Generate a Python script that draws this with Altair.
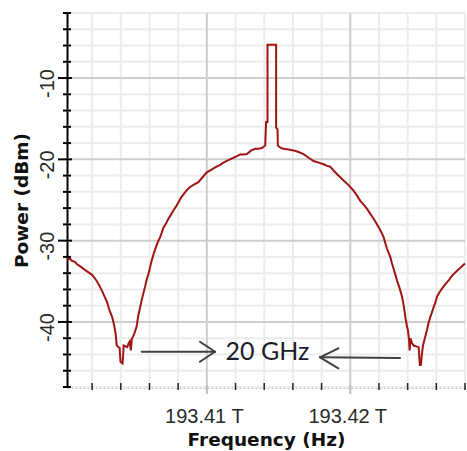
import altair as alt
import pandas as pd

# Frequencies are GHz offsets from 193.40 THz
BASE_THZ = 193.40
freq_ghz = [
    0.25, 0.45, 0.6, 0.8, 0.95, 1.2, 1.5, 1.75, 2.0, 2.3, 2.5, 2.7, 2.9, 3.05, 3.2, 3.4,
    3.55, 3.65, 3.72, 3.85, 3.92, 3.98, 4.12, 4.16, 4.2, 4.35, 4.45, 4.55, 4.62, 4.7,
    4.77, 4.85, 4.95, 5.1, 5.22, 5.35, 5.46, 5.6, 5.69, 5.8, 5.93, 6.05, 6.16, 6.3,
    6.45, 6.6, 6.74, 6.86, 6.97, 7.15, 7.32, 7.5, 7.67, 7.85, 8.02, 8.2, 8.37, 8.6,
    8.83, 9.1, 9.41, 9.7, 10.0, 10.3, 10.58, 10.9, 11.16, 11.5, 11.86, 12.1, 12.32,
    12.55, 12.79, 13.1, 13.37, 13.6, 13.84, 14.07, 14.13, 14.23, 14.23, 14.83, 14.83,
    14.93, 14.95, 15.15, 15.35, 15.7, 16.05, 16.4, 16.74, 17.1, 17.44, 17.8, 18.14,
    18.4, 18.6, 18.85, 19.07, 19.3, 19.53, 19.9, 20.23, 20.45, 20.7, 20.95, 21.17,
    21.4, 21.63, 21.8, 21.98, 22.15, 22.33, 22.56, 22.79, 22.91, 23.1, 23.26, 23.45,
    23.61, 23.75, 23.84, 23.95, 24.02, 24.1, 24.14, 24.2, 24.3, 24.42, 24.6, 24.77,
    24.85, 24.92, 25.0, 25.07, 25.2, 25.35, 25.45, 25.58, 25.7, 25.81, 25.95, 26.05,
    26.2, 26.4, 26.6, 26.86, 27.1, 27.45, 27.7, 28.0,
]
power_dbm = [
    -32.4, -32.2, -32.5, -32.6, -32.9, -33.2, -33.6, -33.9, -34.2, -34.9, -35.5, -36.2,
    -37.0, -37.6, -38.5, -39.4, -40.5, -41.6, -42.9, -43.1, -43.2, -44.9, -45.1, -44.2,
    -42.9, -43.0, -43.1, -42.6, -42.4, -43.5, -42.1, -41.8, -41.4, -40.6, -39.2, -38.2,
    -37.3, -36.3, -35.7, -34.8, -34.1, -33.2, -32.4, -31.6, -30.8, -30.1, -29.6, -29.0,
    -28.4, -27.9, -27.3, -26.8, -26.3, -25.8, -25.3, -24.7, -24.3, -23.8, -23.4, -23.1,
    -22.8, -22.2, -21.6, -21.3, -21.0, -20.7, -20.4, -20.1, -19.8, -19.6, -19.4, -19.4,
    -19.35, -18.9, -18.7, -18.7, -18.6, -18.3, -15.4, -15.4, -5.9, -5.9, -16.1, -16.3,
    -18.3, -18.6, -18.7, -18.8, -18.9, -19.1, -19.35, -19.8, -20.2, -20.4, -20.6, -20.8,
    -20.9, -21.4, -21.8, -22.2, -22.6, -23.2, -23.85, -24.4, -25.1, -25.6, -26.1, -26.7,
    -27.3, -27.8, -28.35, -28.9, -29.6, -31.0, -32.0, -32.8, -33.9, -34.9, -35.9, -36.9,
    -38.2, -39.4, -40.5, -41.0, -42.3, -43.5, -42.0, -42.6, -42.9, -43.0, -43.1, -45.3,
    -45.3, -43.9, -42.9, -42.0, -41.0, -40.2, -39.4, -38.8, -38.2, -37.5, -36.9, -36.4,
    -35.9, -35.4, -34.9, -34.3, -33.7, -33.3, -32.8,
]

x_domain = [0.25, 28.0]
y_domain = [-48, -2]
x_minor = [2, 4, 6, 8, 12, 14, 16, 18, 22, 24, 26, 28]
x_major = [10, 20]
x_tick_labels = ["193.41 T", "193.42 T"]
y_minor = [-48, -46, -44, -42, -38, -36, -34, -32, -28, -26, -24, -22, -18, -16, -14, -12, -8, -6, -4, -2]
y_major = [-40, -30, -20, -10]
y_tick_labels = ["-40", "-30", "-20", "-10"]

# annotation arrows (segments in data units)
arrow_x = [5.46, 9.52, 9.52, 17.89, 19.17, 19.17]
arrow_y = [-43.66, -42.43, -44.89, -44.35, -43.24, -45.70]
arrow_x2 = [10.57, 10.57, 10.57, 23.47, 17.89, 17.89]
arrow_y2 = [-43.66, -43.66, -43.66, -44.44, -44.35, -44.35]
note_text = ["20 GHz"]
note_x = [14.23]
note_y = [-43.66]

W, H = 398, 374

curve = pd.DataFrame({"f": freq_ghz, "p": power_dbm, "i": range(len(freq_ghz))})
xs = alt.Scale(domain=x_domain, nice=False, zero=False)
ys = alt.Scale(domain=y_domain, nice=False, zero=False)

def lab_expr(vals, labs):
    parts = " : ".join(f"datum.value == {v} ? '{l}'" for v, l in zip(vals, labs))
    return parts + " : ''"

x_axis = alt.Axis(
    values=x_major, labelExpr=lab_expr(x_major, x_tick_labels),
    labelFont="Liberation Sans", labelFontSize=20, labelColor="#2a2a2a",
    labelBaseline="alphabetic", labelPadding=35, labelOffset=-3,
    ticks=False, tickSize=0, grid=False,
    domainColor="black", domainDash=[2, 2], domainWidth=1.5,
    title="Frequency (Hz)", titleFont="DejaVu Sans", titleFontWeight="bold",
    titleFontSize=18.5, titleColor="#111111", titleX=199, titleY=58,
    titleBaseline="alphabetic", titleAlign="center",
)
y_axis = alt.Axis(
    values=y_major, labelExpr=lab_expr(y_major, y_tick_labels),
    labelFont="Liberation Sans", labelFontSize=20, labelColor="#2a2a2a",
    labelAngle=270, labelAlign="center", labelBaseline="alphabetic",
    labelPadding=14, labelOffset=5,
    ticks=False, tickSize=0, grid=False,
    domainColor="black", domainWidth=2,
    title="Power (dBm)", titleFont="DejaVu Sans", titleFontWeight="bold",
    titleFontSize=18.5, titleColor="#111111", titleAngle=270,
    titleX=-46, titleY=187, titleAlign="center", titleBaseline="middle",
)

def X(field):
    return alt.X(field, scale=xs, axis=x_axis)

def Y(field):
    return alt.Y(field, scale=ys, axis=y_axis)

def vrules(vals, color, w=2):
    return alt.Chart(pd.DataFrame({"v": vals})).mark_rule(color=color, strokeWidth=w).encode(x=X("v:Q"))

def hrules(vals, color, w=2):
    return alt.Chart(pd.DataFrame({"v": vals})).mark_rule(color=color, strokeWidth=w).encode(y=Y("v:Q"))

grid = [vrules(x_minor, "#ececec"), hrules(y_minor, "#ececec"),
        vrules(x_major, "#cdcdcd"), hrules(y_major, "#cdcdcd")]

line = alt.Chart(curve).mark_line(color="#a01414", strokeWidth=2).encode(
    x=X("f:Q"), y=Y("p:Q"), order="i:Q",
)

arrows = alt.Chart(pd.DataFrame({"x": arrow_x, "y": arrow_y, "x2": arrow_x2, "y2": arrow_y2})).mark_rule(
    color="#404040", strokeWidth=2, strokeCap="round").encode(
    x=X("x:Q"), y=Y("y:Q"), x2="x2:Q", y2="y2:Q")

note = alt.Chart(pd.DataFrame({"t": note_text, "x": note_x, "y": note_y})).mark_text(
    font="Lato", fontSize=25, color="#1c1c2a", align="center", baseline="middle").encode(
    x=X("x:Q"), y=Y("y:Q"), text="t:N")

ytick_minor = alt.Chart(pd.DataFrame({"v": y_minor})).mark_rule(color="black", strokeWidth=2).encode(
    y=Y("v:Q"), x=alt.value(-4), x2=alt.value(4))
ytick_major = alt.Chart(pd.DataFrame({"v": y_major})).mark_rule(color="black", strokeWidth=2).encode(
    y=Y("v:Q"), x=alt.value(-9), x2=alt.value(5))
xtick_minor = alt.Chart(pd.DataFrame({"v": x_minor})).mark_rule(color="#222222", strokeWidth=1.5).encode(
    x=X("v:Q"), y=alt.value(H - 4), y2=alt.value(H + 3))
xtick_major = alt.Chart(pd.DataFrame({"v": x_major})).mark_rule(color="#bbbbbb", strokeWidth=2).encode(
    x=X("v:Q"), y=alt.value(H - 2), y2=alt.value(H + 7))

chart = alt.layer(
    *grid, line, arrows, note, xtick_major, xtick_minor, ytick_minor, ytick_major
).properties(
    width=W, height=H,
    autosize=alt.AutoSizeParams(type="none"),
    padding={"left": 67, "top": 13, "right": 2, "bottom": 64},
    background="white",
).configure_view(stroke=None)

chart.save("out.html", embed_options={"renderer": "svg", "actions": False})
